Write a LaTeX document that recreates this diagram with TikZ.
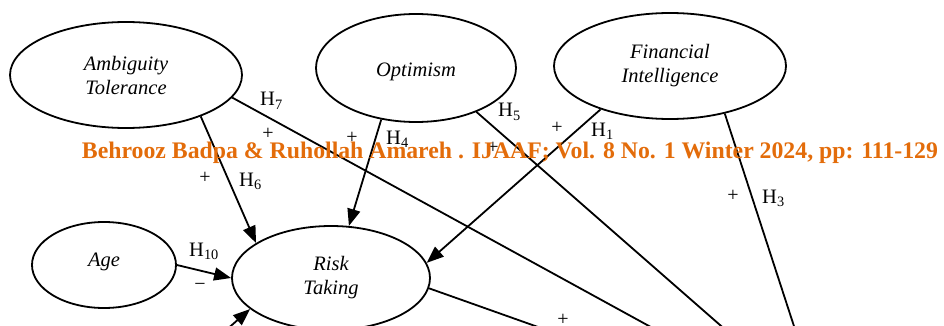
\documentclass[tikz,border=0pt]{standalone}
\usepackage{fontspec}
\setmainfont{Liberation Serif}
\usepackage{graphicx}
\usetikzlibrary{shapes.geometric,arrows.meta}
\definecolor{titleorange}{HTML}{E36C0A}
\begin{document}
\begin{tikzpicture}[x=1pt,y=-1pt,
  latent/.style={ellipse,draw,line width=1.8pt,inner sep=0pt,align=center,
    font=\fontsize{20.5}{24}\selectfont\itshape},
  conn/.style={line width=1.8pt},
  arr/.style={conn,-{Triangle[length=17pt,width=13pt]}},
  hlab/.style={font=\fontsize{20.5}{24}\selectfont,inner sep=0pt,anchor=base west},
  sign/.style={font=\fontsize{20}{24}\selectfont,inner sep=0pt}]
\useasboundingbox (0,0) rectangle (944,326);
\clip (0,0) rectangle (944,326);
% latent variables
\node[latent,minimum width=232pt,minimum height=106pt] (AT) at (126,75) {Ambiguity\\Tolerance};
\node[latent,minimum width=200pt,minimum height=108pt] (OP) at (416,68) {\raisebox{-9pt}[0pt][0pt]{Optimism}};
\node[latent,minimum width=232pt,minimum height=106pt] (FI) at (670,66) {Financial\\Intelligence};
\node[latent,minimum width=144pt,minimum height=86pt] (AG) at (104,265) {\raisebox{-1pt}[0pt][0pt]{Age}};
\node[latent,minimum width=198pt,minimum height=104pt] (RT) at (331,278) {Risk\\Taking};
% off-picture ends
\coordinate (c7) at (711,360);
\coordinate (c5) at (760,360);
\coordinate (c3) at (805,360);
\coordinate (cR) at (631,360);
\coordinate (cB) at (192,360);
% connectors
\draw[arr]  (AT.-29.9) -- (RT.155.3);
\draw[conn] (AT.-12.4) -- (c7);
\draw[arr]  (OP.-124.7) -- (RT.71.9);
\draw[conn] (OP.-36.4) -- (c5);
\draw[arr]  (FI.-148.9) -- (RT.9.7);
\draw[conn] (FI.-41) -- (c3);
\draw[arr]  (AG.east) -- (RT.west);
\draw[arr]  (cB) -- (RT.-159.3);
\draw[conn] (RT.-6.3) -- (cR);
% hypothesis labels
\node[hlab] (h7) at (260,106) {H\textsubscript{7}};
\node[hlab] (h4) at (386,144) {H\textsubscript{4}};
\node[hlab] (h5) at (498,117) {H\textsubscript{5}};
\node[hlab] (h1) at (591,136) {H\textsubscript{1}};
\node[hlab] (h3) at (762,203) {H\textsubscript{3}};
\node[hlab] (h6) at (239,186) {H\textsubscript{6}};
\node[hlab] (h10) at (189,256) {H\textsubscript{10}};
% signs
\node[sign] (s7) at (268,134) {+};
\node[sign] (s4) at (352,138) {+};
\node[sign] (s1) at (557,128) {+};
\node[sign] (s5) at (493,148) {+};
\node[sign] (s3) at (733,196) {+};
\node[sign] (s6) at (205,178) {+};
\node[sign] (sR) at (563,320) {+};
\node[sign] (s10) at (200,287) {−};
% running title
\node[anchor=base,text=titleorange,inner sep=0pt] (title) at (510,158)
  {\resizebox{856pt}{!}{\fontsize{21}{25}\selectfont\bfseries Behrooz Badpa \& Ruhollah Amareh . IJAAF; Vol. 8 No. 1 Winter 2024, pp: 111-129}};
\end{tikzpicture}
\end{document}
